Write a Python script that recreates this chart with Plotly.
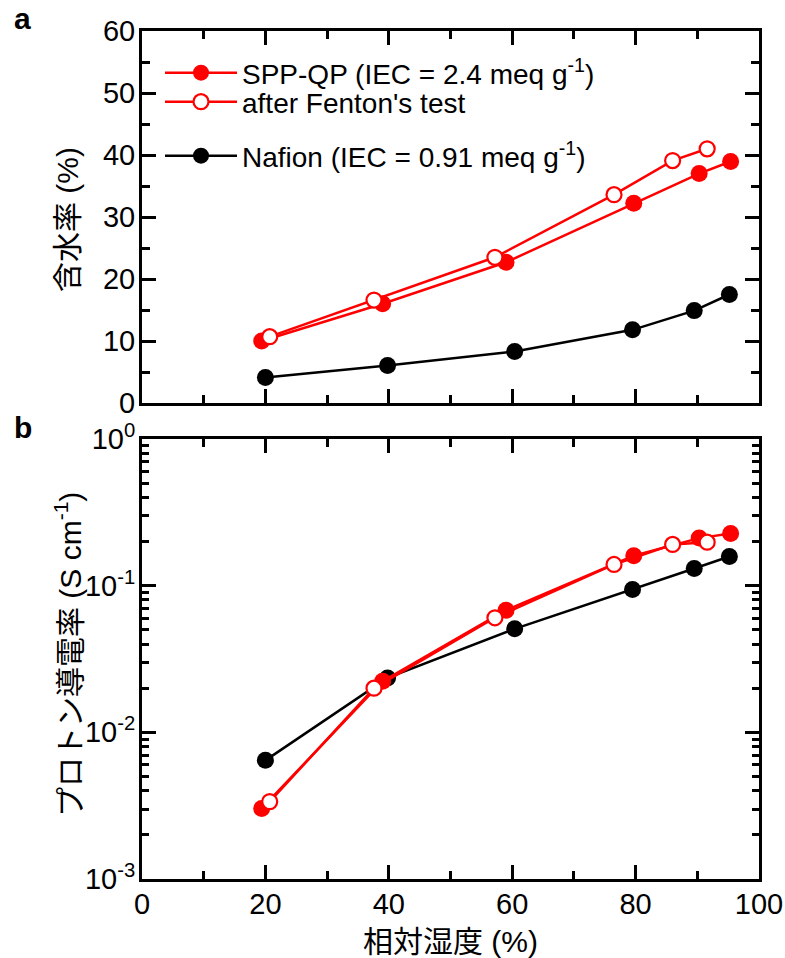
import plotly.graph_objects as go

# ---- data ----
rh_spp = [19.4, 39.0, 59.0, 79.7, 90.3, 95.4]
rh_fen = [20.7, 37.6, 57.2, 76.5, 86.0, 91.6]
rh_naf = [20.0, 39.8, 60.4, 79.5, 89.5, 95.2]

wu_spp = [10.0, 16.0, 22.7, 32.2, 37.0, 38.95]
wu_fen = [10.7, 16.6, 23.5, 33.6, 39.1, 41.0]
wu_naf = [4.1, 6.05, 8.3, 11.8, 14.9, 17.5]

pc_spp = [0.00303, 0.0223, 0.068, 0.160, 0.211, 0.227]
pc_fen = [0.00337, 0.0200, 0.0604, 0.1395, 0.191, 0.198]
pc_naf = [0.00644, 0.0235, 0.0508, 0.094, 0.131, 0.158]

x_ticks = [0, 20, 40, 60, 80, 100]
y2_ticks = [0.001, 0.01, 0.1, 1]
y2_ticktext = ["10<sup>-3</sup>", "10<sup>-2</sup>", "10<sup>-1</sup>", "10<sup>0</sup>"]
y2_minor = [k * 10.0 ** e for e in (-3, -2, -1) for k in range(2, 10)]

names = ["SPP-QP (IEC = 2.4 meq g<sup>-1</sup>)",
         "after Fenton's test",
         "Nafion (IEC = 0.91 meq g<sup>-1</sup>)"]

RED = "#ff0000"
BLACK = "#000000"
LATIN = "Liberation Sans, Arial, sans-serif"
MIXED = "Liberation Sans, Arial, Noto Sans CJK JP, sans-serif"

fig = go.Figure()

def add(x, y, name, color, filled, xa, ya, show, leg):
    fig.add_trace(go.Scatter(
        x=x, y=y, name=name, mode="lines+markers",
        line=dict(color=color, width=2.5),
        marker=dict(symbol="circle", size=17 if filled else 15,
                    color=color if filled else "white",
                    line=dict(color=color, width=0 if filled else 2.2)),
        xaxis=xa, yaxis=ya, showlegend=show, legend=leg,
    ))

# panel a
add(rh_naf, wu_naf, names[2], BLACK, True, "x", "y", True, "legend3")
add(rh_spp, wu_spp, names[0], RED, True, "x", "y", True, "legend")
add(rh_fen, wu_fen, names[1], RED, False, "x", "y", True, "legend2")
# panel b
add(rh_naf, pc_naf, names[2], BLACK, True, "x2", "y2", False, "legend3")
add(rh_spp, pc_spp, names[0], RED, True, "x2", "y2", False, "legend")
add(rh_fen, pc_fen, names[1], RED, False, "x2", "y2", False, "legend2")

W, H = 785, 958
xl, xr = 142, 759
ya_t, ya_b = 31, 403
yb_t, yb_b = 439, 879

axis_common = dict(showline=True, linewidth=3, linecolor=BLACK, mirror="ticks",
                   ticks="inside", tickwidth=3, tickcolor=BLACK, ticklen=14,
                   showgrid=False, zeroline=False, automargin=False,
                   tickfont=dict(family=LATIN, size=29, color=BLACK))

def leg(yc):
    return dict(x=160 / W, y=1 - yc / H, xanchor="left", yanchor="middle",
                font=dict(family=LATIN, size=28, color=BLACK),
                bgcolor="rgba(0,0,0,0)", itemwidth=72, borderwidth=0)

fig.update_layout(
    width=W, height=H, margin=dict(l=0, r=0, t=0, b=0),
    paper_bgcolor="white", plot_bgcolor="white",
    showlegend=True,
    legend=leg(73), legend2=leg(102), legend3=leg(156),
    xaxis=dict(domain=[xl / W, xr / W], range=[0, 100], anchor="y",
               tickvals=x_ticks, showticklabels=False,
               minor=dict(ticks="inside", ticklen=8, tickwidth=3, tickcolor=BLACK,
                          dtick=10, tick0=0, showgrid=False),
               **axis_common),
    yaxis=dict(domain=[1 - ya_b / H, 1 - ya_t / H], range=[0, 60], anchor="x",
               dtick=10, tick0=0, ticklabelstandoff=-2,
               minor=dict(ticks="inside", ticklen=8, tickwidth=3, tickcolor=BLACK,
                          dtick=5, tick0=0, showgrid=False),
               **axis_common),
    xaxis2=dict(domain=[xl / W, xr / W], range=[0, 100], anchor="y2",
                tickvals=x_ticks, ticklabelstandoff=-3,
                minor=dict(ticks="inside", ticklen=8, tickwidth=3, tickcolor=BLACK,
                           dtick=10, tick0=0, showgrid=False),
                **axis_common),
    yaxis2=dict(domain=[1 - yb_b / H, 1 - yb_t / H], type="log", range=[-3, 0],
                anchor="x2", tickmode="array", tickvals=y2_ticks,
                ticktext=y2_ticktext, ticklabelstandoff=-2,
                minor=dict(ticks="inside", ticklen=7, tickwidth=3, tickcolor=BLACK,
                           tickmode="array", tickvals=y2_minor, showgrid=False),
                **axis_common),
)

ann = [
    dict(text="<b>a</b>", x=12 / W, y=1 - 37 / H, xanchor="left", yanchor="bottom",
         font=dict(family=LATIN, size=30)),
    dict(text="<b>b</b>", x=12 / W, y=1 - 446 / H, xanchor="left", yanchor="bottom",
         font=dict(family=LATIN, size=30)),
    dict(text="含水率 (%)", x=68 / W, y=1 - 220 / H, textangle=-90,
         xanchor="center", yanchor="middle", font=dict(family=MIXED, size=30)),
    dict(text="プロトン導電率 (S cm<sup>-1</sup>)", x=68 / W, y=1 - 655 / H,
         textangle=-90, xanchor="center", yanchor="middle",
         font=dict(family=MIXED, size=30)),
    dict(text="相対湿度 (%)", x=(xl + xr) / 2 / W, y=1 - 941 / H,
         xanchor="center", yanchor="middle", font=dict(family=MIXED, size=30)),
]
for a in ann:
    a.update(xref="paper", yref="paper", showarrow=False)
    a["font"]["color"] = BLACK
fig.update_layout(annotations=ann)

fig.write_html("out.html", config={"displayModeBar": False},
               post_script="document.body.style.margin='0';"
                           "document.body.style.overflow='hidden';")
